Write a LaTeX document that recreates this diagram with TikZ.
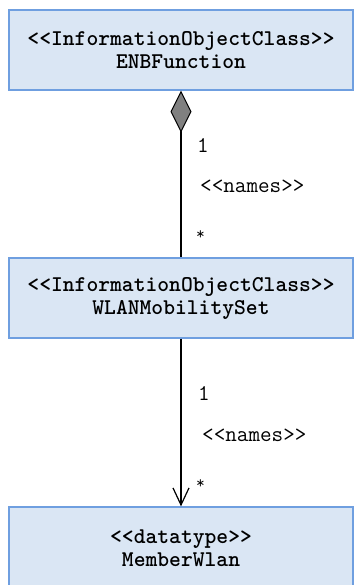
\documentclass[tikz,border=0pt]{standalone}
\usepackage{fontspec}
\usetikzlibrary{arrows.meta}
\definecolor{boxfill}{HTML}{DAE6F4}
\definecolor{boxdraw}{HTML}{6F9FE0}
\definecolor{diamfill}{HTML}{808080}
\tikzset{
  classbox/.style={draw=boxdraw, fill=boxfill, line width=1.3pt, minimum width=344pt, minimum height=80pt, inner sep=0pt,
    align=center, font=\ttfamily\bfseries\fontsize{22.5}{23}\selectfont},
  lbl/.style={anchor=west, inner sep=0pt, font=\ttfamily\fontsize{22.5}{23}\selectfont},
  star/.style={anchor=west, inner sep=0pt, font=\ttfamily\fontsize{17}{20}\selectfont},
  conn/.style={line width=1.2pt, draw=black}
}
\begin{document}
\begin{tikzpicture}[x=1pt,y=-1pt]
\useasboundingbox (0,0) rectangle (354,585);
\clip (0,0) rectangle (354,585);
\node[classbox] (enb) at (181,50) {<<InformationObjectClass>>\\ENBFunction};
\node[classbox] (wms) at (181,298) {<<InformationObjectClass>>\\WLANMobilitySet};
\node[classbox, minimum height=83pt] (mw) at (181,548.5) {<<datatype>>\\MemberWlan};
\draw[conn, {Diamond[length=42pt,width=21pt,fill=diamfill,line width=1pt]}-] (enb.south) -- (wms.north);
\draw[conn, -{Straight Barb[length=17pt,width=16pt,line width=1.2pt]}] (wms.south) -- (mw.north);
\node[lbl] (m1) at (197,145) {1};
\node[lbl] (n1) at (200,186) {<<names>>};
\node[star] (s1) at (196,235) {*};
\node[lbl] (m2) at (198,393) {1};
\node[lbl] (n2) at (202,435) {<<names>>};
\node[star] (s2) at (196,484) {*};
\end{tikzpicture}
\end{document}
